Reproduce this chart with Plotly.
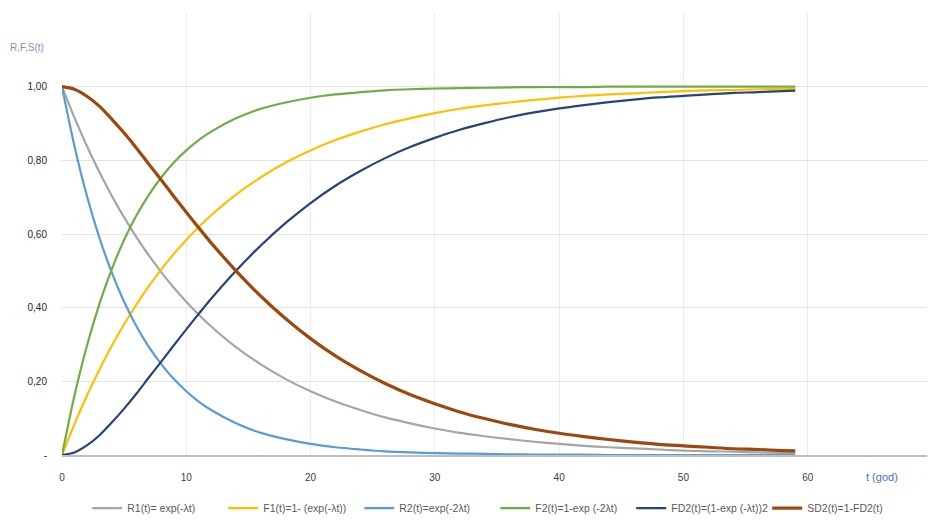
import plotly.graph_objects as go

# time (years)
t = [0, 1, 2, 3, 4, 5, 6, 7, 8, 9, 10, 11, 12, 14, 16, 18, 20, 22, 24, 26, 28,
     30, 32, 34, 36, 38, 40, 42, 44, 46, 48, 50, 52, 54, 56, 58, 59]

R1 = [1.000, 0.916, 0.839, 0.769, 0.704, 0.645, 0.591, 0.541, 0.496, 0.454, 0.416,
      0.381, 0.349, 0.293, 0.246, 0.206, 0.173, 0.145, 0.122, 0.102, 0.086,
      0.072, 0.060, 0.051, 0.043, 0.036, 0.030, 0.025, 0.021, 0.018, 0.015,
      0.012, 0.010, 0.009, 0.007, 0.006, 0.006]
F1 = [0.000, 0.084, 0.161, 0.231, 0.296, 0.355, 0.409, 0.459, 0.504, 0.546, 0.584,
      0.619, 0.651, 0.707, 0.754, 0.794, 0.827, 0.855, 0.878, 0.898, 0.914,
      0.928, 0.940, 0.949, 0.957, 0.964, 0.970, 0.975, 0.979, 0.982, 0.985,
      0.988, 0.990, 0.991, 0.993, 0.994, 0.994]
R2 = [1.000, 0.839, 0.704, 0.591, 0.496, 0.416, 0.349, 0.293, 0.246, 0.206, 0.173,
      0.145, 0.122, 0.086, 0.060, 0.043, 0.030, 0.021, 0.015, 0.010, 0.007,
      0.005, 0.004, 0.003, 0.002, 0.001, 0.001, 0.001, 0.000, 0.000, 0.000,
      0.000, 0.000, 0.000, 0.000, 0.000, 0.000]
F2 = [0.000, 0.161, 0.296, 0.409, 0.504, 0.584, 0.651, 0.707, 0.754, 0.794, 0.827,
      0.855, 0.878, 0.914, 0.940, 0.957, 0.970, 0.979, 0.985, 0.990, 0.993,
      0.995, 0.996, 0.997, 0.998, 0.999, 0.999, 0.999, 1.000, 1.000, 1.000,
      1.000, 1.000, 1.000, 1.000, 1.000, 1.000]
FD2 = [0.000, 0.007, 0.026, 0.053, 0.088, 0.126, 0.167, 0.211, 0.254, 0.298, 0.341,
       0.383, 0.424, 0.500, 0.569, 0.630, 0.684, 0.731, 0.771, 0.806, 0.836,
       0.861, 0.883, 0.901, 0.917, 0.930, 0.941, 0.950, 0.958, 0.965, 0.971,
       0.975, 0.979, 0.983, 0.985, 0.988, 0.989]
SD2 = [1.000, 0.993, 0.974, 0.947, 0.912, 0.874, 0.833, 0.789, 0.746, 0.702, 0.659,
       0.617, 0.576, 0.500, 0.431, 0.370, 0.316, 0.269, 0.229, 0.194, 0.164,
       0.139, 0.117, 0.099, 0.083, 0.070, 0.059, 0.050, 0.042, 0.035, 0.029,
       0.025, 0.021, 0.017, 0.015, 0.012, 0.011]

names = ["R1(t)= exp(-λt)", "F1(t)=1- (exp(-λt))", "R2(t)=exp(-2λt)",
         "F2(t)=1-exp (-2λt)", "FD2(t)=(1-exp (-λt))2", "SD2(t)=1-FD2(t)"]
series = [R1, F1, R2, F2, FD2, SD2]
colors = ["#A5A5A5", "#FFC000", "#5B9BD5", "#70AD47", "#264478", "#9E480E"]
widths = [2.2, 2.2, 2.2, 2.2, 2.2, 3.2]

y_ticks = [0, 0.2, 0.4, 0.6, 0.8, 1.0, 1.2]
y_ticktext = ["-", "0,20", "0,40", "0,60", "0,80", "1,00", "1,20"]
x_ticks = [0, 10, 20, 30, 40, 50, 60, 70]

font_family = "Liberation Sans Narrow, Liberation Sans, Arial"

fig = go.Figure()
for name, ys, c, w in zip(names, series, colors, widths):
    fig.add_trace(go.Scatter(x=t, y=ys, name=name, mode="lines",
                             line=dict(color=c, width=w, shape="spline",
                                       smoothing=0.8)))

fig.update_layout(
    width=935, height=521,
    margin=dict(l=54, r=11, t=5, b=74),
    paper_bgcolor="white", plot_bgcolor="white",
    font=dict(family=font_family, size=10, color="#404040"),
    showlegend=True,
    legend=dict(orientation="h", x=0.029, xanchor="left", y=-0.12, yanchor="middle",
                font=dict(size=10.5, color="#595959"), itemwidth=30,
                entrywidth=91, entrywidthmode="pixels",
                tracegroupgap=0, bgcolor="rgba(0,0,0,0)"),
    xaxis=dict(range=[0, 70], tickvals=x_ticks, showgrid=True, gridcolor="#EDEDED",
               gridwidth=1, zeroline=False, showline=True, linecolor="#BFBFBF",
               linewidth=1.5, ticks="outside", ticklen=12,
               tickcolor="rgba(0,0,0,0)", tickfont=dict(size=10, color="#404040")),
    yaxis=dict(range=[0, 1.2], tickvals=y_ticks, ticktext=y_ticktext, showgrid=True,
               gridcolor="#E3E3E3", gridwidth=1, zeroline=False, showline=False,
               ticks="outside", ticklen=12, tickcolor="rgba(0,0,0,0)",
               tickfont=dict(size=10, color="#262626")),
)

fig.add_annotation(text="R,F,S(t)", xref="paper", yref="paper", x=-0.062, y=0.923,
                   xanchor="left", yanchor="middle", showarrow=False,
                   font=dict(size=10, color="#8090C0", family=font_family))
fig.add_annotation(text="t (god)", xref="paper", yref="paper", x=0.943, y=-0.05,
                   xanchor="center", yanchor="middle", showarrow=False,
                   font=dict(size=11, color="#4472C4", family=font_family))

fig.write_html("out.html")
